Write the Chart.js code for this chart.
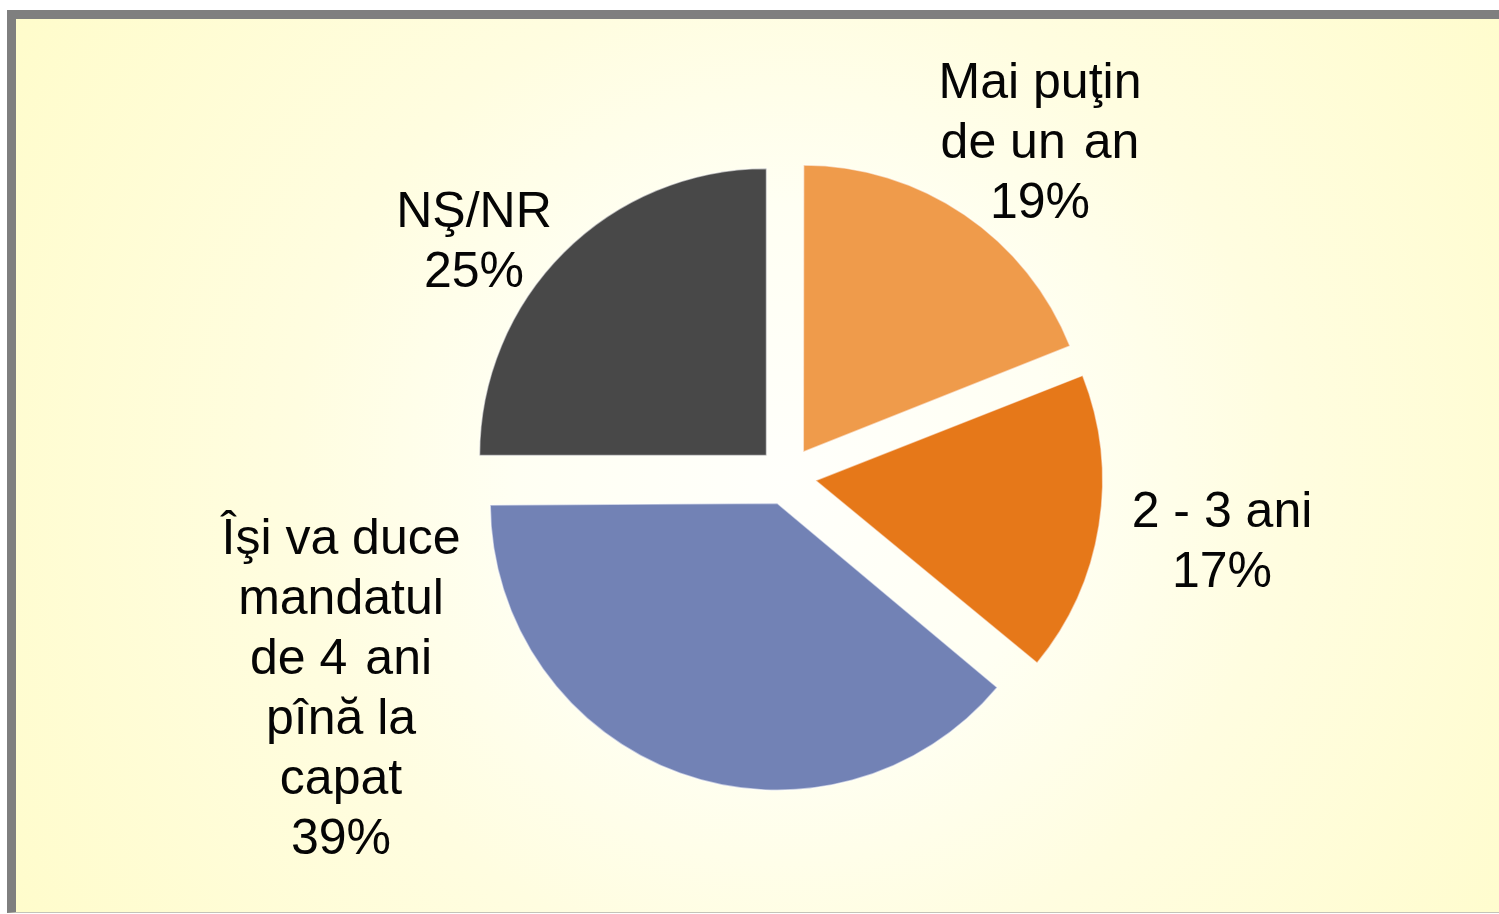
<!DOCTYPE html>
<html>
<head>
<meta charset="utf-8">
<script src="https://cdn.jsdelivr.net/npm/chart.js@4/dist/chart.umd.min.js"></script>
<style>
  html, body { margin: 0; padding: 0; width: 1499px; height: 914px; overflow: hidden; background: #ffffff; }
  #frame {
    position: absolute; left: 7px; top: 10px; width: 1492px; height: 903px;
    box-sizing: border-box;
    border-left: 9px solid #7f7f7f; border-top: 9px solid #7f7f7f; border-bottom: 1px solid #c4c4b8;
    background: radial-gradient(circle 900px at 771px 457px, #fffffb 0%, #fffff3 30%, #fffde0 55%, #fffccb 100%);
  }
  #c { position: absolute; left: 0; top: 0; }
</style>
</head>
<body>
<div id="frame"></div>
<canvas id="c" width="1499" height="914"></canvas>
<script>
// ---- data ----
const categories = ["Mai puţin de un an", "2 - 3 ani", "Îşi va duce mandatul de 4 ani pînă la capat", "NŞ/NR"];
const values = [19, 17, 39, 25];
const labelLines = [
  ["Mai puţin", "de un \u200Aan", "19%"],
  ["2 - 3 ani", "17%"],
  ["Îşi va duce", "mandatul", "de 4 \u200Aani", "pînă la", "capat", "39%"],
  ["NŞ/NR", "25%"]
];
const colors = ["#EF9B4B", "#E67819", "#7282B5", "#484848"];

// ---- styling / layout ----
const sliceOffset = 116;      // Chart.js arc offset (pulls each slice out ~29px)
const pieRadius = 287;
const labelOffsets = [[253, -336], [435, 63], [-446, 210], [-313, -237]]; // block centre relative to pie centre
const fontSize = 50, lineH = 60, capH = 36;

// Chart.js enlarges exploded arcs by (offset/4)*(1-sin(circumference)); undo that so all slices share one radius
const equalRadiusPlugin = {
  id: 'equalRadius',
  beforeDatasetsDraw(chart) {
    chart.getDatasetMeta(0).data.forEach(arc => {
      const off = (arc.options.offset || 0) / 4;
      const fix = 1 - Math.sin(Math.min(Math.PI, arc.circumference));
      arc.outerRadius = pieRadius - off * fix;
    });
  }
};

const labelPlugin = {
  id: 'sliceLabels',
  afterDatasetsDraw(chart) {
    const ctx = chart.ctx;
    const meta = chart.getDatasetMeta(0);
    ctx.save();
    ctx.font = fontSize + 'px "Liberation Sans", Arial, sans-serif';
    ctx.fillStyle = '#050505';
    ctx.textAlign = 'center';
    ctx.textBaseline = 'alphabetic';
    meta.data.forEach((arc, i) => {
      const lines = labelLines[i];
      const cx = arc.x + labelOffsets[i][0];
      const cy = arc.y + labelOffsets[i][1];
      const first = cy - (lines.length - 1) * lineH / 2 + capH / 2;
      lines.forEach((t, k) => ctx.fillText(t, cx, first + k * lineH));
    });
    ctx.restore();
  }
};

new Chart(document.getElementById('c'), {
  type: 'pie',
  data: {
    labels: categories,
    datasets: [{
      data: values,
      backgroundColor: colors,
      borderColor: 'rgba(255,255,255,0.55)',
      borderWidth: 1.5,
      offset: sliceOffset
    }]
  },
  options: {
    responsive: false,
    devicePixelRatio: 1,
    animation: false,
    events: [],
    radius: pieRadius,
    layout: { padding: { left: 75, top: 38, right: 0, bottom: 0 } },
    plugins: { legend: { display: false }, tooltip: { enabled: false } }
  },
  plugins: [equalRadiusPlugin, labelPlugin]
});
</script>
</body>
</html>
